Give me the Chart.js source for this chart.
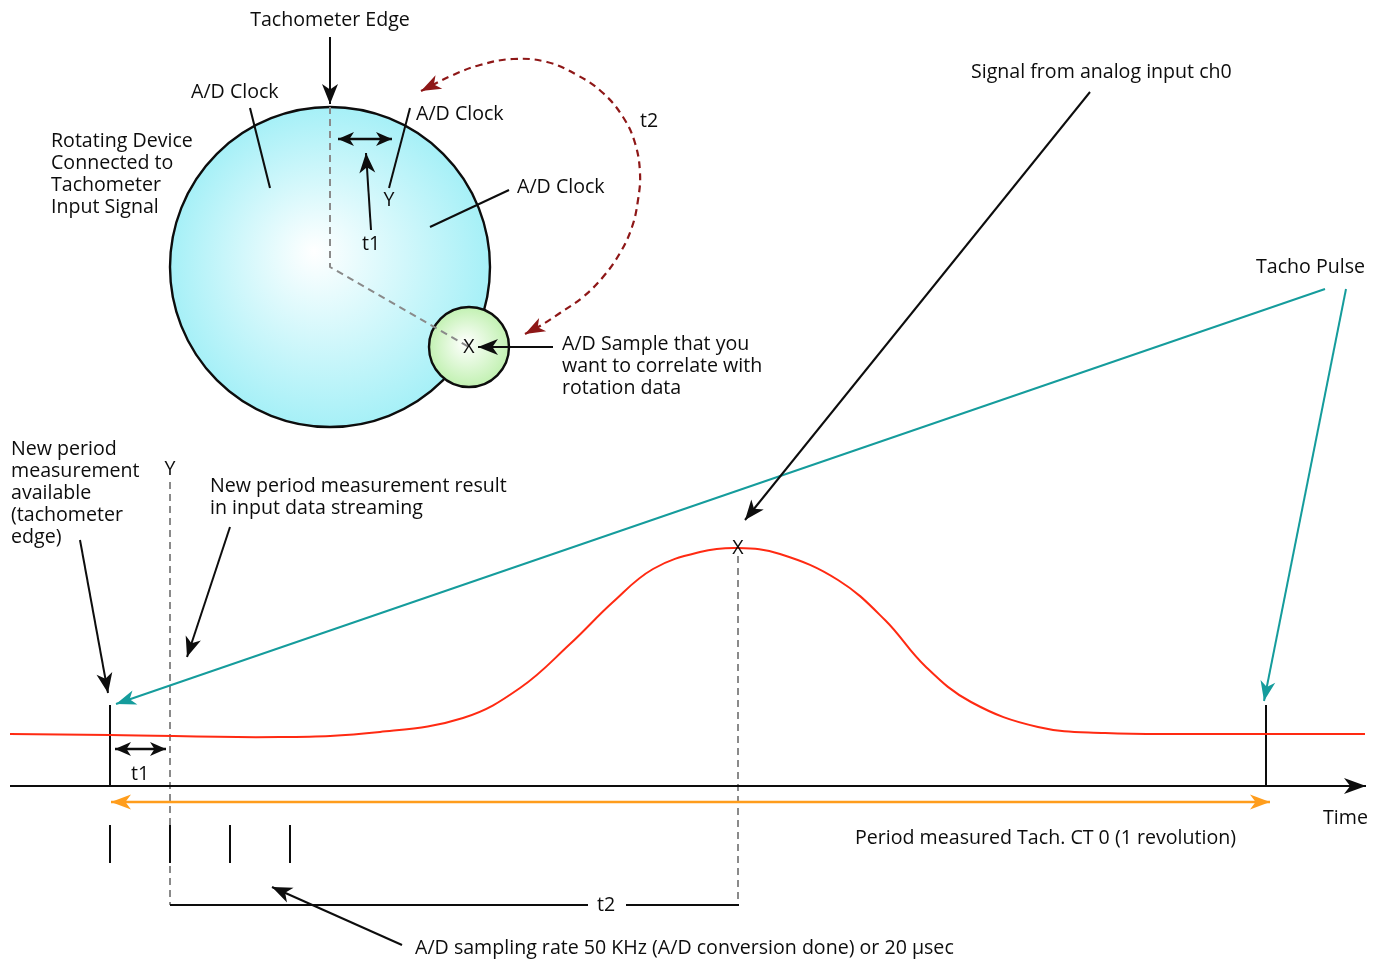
<!DOCTYPE html>
<html lang="en">
<head>
    <meta charset="UTF-8">
    <title>Tachometer / A/D correlation</title>
    <script src="https://cdn.jsdelivr.net/npm/chart.js"></script>
    <style>
        html, body { margin: 0; padding: 0; background: #fff; }
        #myapp { width: 1380px; height: 959px; }
    </style>
</head>
<body>
<div id="myapp">
    <canvas id="mychart" width="1380" height="959"></canvas>
</div>
<script>
    // diagram units: x = time / position across (0..1380), y = level, top-down (0..959)

    // red signal from analog input ch0
    const signalX = [10, 110, 280, 380, 463, 520, 570, 613, 653, 700, 738, 780, 838, 885, 925, 971, 1038, 1105, 1200, 1365];
    const signalY = [734, 735, 737, 732, 718, 688, 644, 602, 569, 552, 548, 554, 580, 620, 666, 702, 727, 733, 734, 734];

    // rotating device (big) and A/D sample (small): centre x, centre y, radius
    const discs = [[330, 267, 160], [469, 347, 40]];

    // dashed red t2 arc around the device
    const arcX = [421, 453, 480, 513, 547, 577, 603, 623, 635, 640, 638, 632, 620, 603, 583, 560, 540, 525];
    const arcY = [91, 75, 65, 59, 62, 75, 93, 117, 143, 173, 200, 227, 253, 277, 297, 313, 326, 334];

    // black pointers with an arrow head at the end
    const pointers = [
        [[330, 37], [330, 104]],
        [[371, 230], [366, 153]],
        [[553, 347], [478, 347]],
        [[1090, 92], [745, 520]],
        [[80, 540], [108, 693]],
        [[230, 527], [187, 657]],
        [[402, 945], [272, 887]]
    ];
    // double headed t1 markers
    const spans = [
        [[338, 139], [392, 139]],
        [[115, 749], [166, 749]]
    ];
    // plain leader lines for the A/D Clock labels
    const leaders = [
        [[250, 108], [270, 188]],
        [[410, 108], [389, 188]],
        [[509, 190], [430, 227]]
    ];
    // tacho pulse pointers
    const tachoPointers = [
        [[1325, 289], [116, 704]],
        [[1346, 289], [1264, 701]]
    ];
    // one revolution span
    const revolution = [[111, 802], [1270, 802]];
    // time axis
    const timeAxis = [[10, 786], [1366, 786]];
    // tacho pulses on the time axis
    const pulseX = [110, 1266];
    const pulseTop = 705;
    // A/D clock ticks
    const sampleX = [110, 170, 230, 290];
    const sampleTop = 825, sampleBottom = 863;
    // t2 bracket
    const bracket = [
        [[170, 905], [588, 905]],
        [[626, 905], [739, 905]]
    ];
    // grey dashed guide lines
    const guides = [
        [[330, 107], [330, 267], [469, 347]],
        [[170, 482], [170, 905]],
        [[738, 556], [738, 905]]
    ];

    // labels
    const labelText = [
        'Tachometer Edge', 'A/D Clock', 'A/D Clock', 'A/D Clock', 'Y', 't1', 't2', 'X',
        'Rotating Device\nConnected to\nTachometer\nInput Signal',
        'A/D Sample that you\nwant to correlate with\nrotation data',
        'Signal from analog input ch0', 'Tacho Pulse',
        'New period\nmeasurement\navailable\n(tachometer\nedge)',
        'Y', 'New period measurement result\nin input data streaming', 'X', 't1', 'Time',
        'Period measured Tach. CT 0 (1 revolution)', 't2',
        'A/D sampling rate 50 KHz (A/D conversion done) or 20 \u00b5sec'
    ];
    const labelX = [330, 191, 416, 517, 389, 371, 640, 469, 51, 562, 971, 1256, 11, 170, 210, 738, 140, 1323, 855, 606, 415];
    const labelY = [20, 92, 114, 187, 200, 244, 121, 347, 141, 344, 72, 267, 449, 469, 486, 548, 774, 818, 838, 905, 948];
    const labelAlign = ['center', 'left', 'left', 'left', 'center', 'center', 'left', 'center', 'left', 'left', 'left', 'left', 'left', 'center', 'left', 'center', 'center', 'left', 'left', 'center', 'left'];

    const BLACK = '#0d0d0d';
    const TEAL = '#159c9c';
    const ORANGE = '#ff9d1c';
    const GREY = '#8a8a8a';
    const DARKRED = '#8e1717';
    const discInner = ['#ffffff', '#ffffff'];
    const discOuter = ['#a6f0f7', '#c2f1b2'];

    function seg(pts, color, width, extra) {
        return Object.assign({
            type: 'line',
            data: pts.map(p => ({ x: p[0], y: p[1] })),
            borderColor: color,
            borderWidth: width,
            pointRadius: 0,
            fill: false,
            tension: 0,
            order: 1
        }, extra || {});
    }

    function head(ctx, tx, ty, fx, fy, L, W) {
        const ang = Math.atan2(ty - fy, tx - fx);
        ctx.save();
        ctx.translate(tx, ty);
        ctx.rotate(ang);
        ctx.beginPath();
        ctx.moveTo(0, 0);
        ctx.lineTo(-L, -W / 2);
        ctx.lineTo(-L * 0.72, 0);
        ctx.lineTo(-L, W / 2);
        ctx.closePath();
        ctx.fill();
        ctx.restore();
    }

    const diagramPlugin = {
        id: 'diagram',
        beforeDatasetsDraw(chart) {
            // discs underneath everything else
            const ctx = chart.ctx;
            const xs = chart.scales.x, ys = chart.scales.y;
            discs.forEach((d, k) => {
                const cx = xs.getPixelForValue(d[0]);
                const cy = ys.getPixelForValue(d[1]);
                const r = xs.getPixelForValue(d[0] + d[2]) - cx;
                const g = ctx.createRadialGradient(cx - r * 0.1, cy - r * 0.1, 0, cx, cy, r);
                g.addColorStop(0, discInner[k]);
                g.addColorStop(1, discOuter[k]);
                ctx.save();
                ctx.beginPath();
                ctx.arc(cx, cy, r, 0, Math.PI * 2);
                ctx.fillStyle = g;
                ctx.fill();
                ctx.lineWidth = 2.4;
                ctx.strokeStyle = BLACK;
                ctx.stroke();
                ctx.restore();
            });
        },
        afterDatasetsDraw(chart) {
            const ctx = chart.ctx;
            chart.data.datasets.forEach((ds, i) => {
                if (!ds.arrow) return;
                const pts = chart.getDatasetMeta(i).data;
                const n = pts.length;
                ctx.save();
                ctx.fillStyle = ds.borderColor;
                if (ds.arrow === 'end' || ds.arrow === 'both') {
                    head(ctx, pts[n - 1].x, pts[n - 1].y, pts[n - 2].x, pts[n - 2].y, ds.headLen, ds.headW);
                }
                if (ds.arrow === 'start' || ds.arrow === 'both') {
                    head(ctx, pts[0].x, pts[0].y, pts[1].x, pts[1].y, ds.headLen, ds.headW);
                }
                ctx.restore();
            });

            const xs = chart.scales.x, ys = chart.scales.y;
            ctx.save();
            ctx.fillStyle = BLACK;
            ctx.font = '19.6px "Open Sans", "Noto Sans", sans-serif';
            ctx.textBaseline = 'middle';
            labelText.forEach((t, k) => {
                ctx.textAlign = labelAlign[k];
                t.split('\n').forEach((line, j) => {
                    ctx.fillText(line, xs.getPixelForValue(labelX[k]), ys.getPixelForValue(labelY[k] + j * 22));
                });
            });
            ctx.restore();
        }
    };

    const datasets = [];
    datasets.push(seg(signalX.map((x, i) => [x, signalY[i]]), '#ff2a12', 2, { tension: 0.4 }));
    // guides sit under the solid marks
    guides.forEach(g => datasets.push(seg(g, GREY, 2, { borderDash: [7, 5], order: 3 })));
    datasets.push(seg(arcX.map((x, i) => [x, arcY[i]]), DARKRED, 2.2, { tension: 0.4, borderDash: [7, 5], arrow: 'both', headLen: 20, headW: 15 }));
    pointers.forEach(p => datasets.push(seg(p, BLACK, 2, { arrow: 'end', headLen: 20, headW: 16 })));
    spans.forEach(p => datasets.push(seg(p, BLACK, 2.5, { arrow: 'both', headLen: 16, headW: 14 })));
    leaders.forEach(p => datasets.push(seg(p, BLACK, 2)));
    tachoPointers.forEach(p => datasets.push(seg(p, TEAL, 2, { arrow: 'end', headLen: 20, headW: 15 })));
    datasets.push(seg(revolution, ORANGE, 2.5, { arrow: 'both', headLen: 20, headW: 15 }));
    datasets.push(seg(timeAxis, BLACK, 2, { arrow: 'end', headLen: 22, headW: 16 }));
    pulseX.forEach(x => datasets.push(seg([[x, pulseTop], [x, timeAxis[0][1]]], BLACK, 2)));
    sampleX.forEach(x => datasets.push(seg([[x, sampleTop], [x, sampleBottom]], BLACK, 2)));
    bracket.forEach(p => datasets.push(seg(p, BLACK, 2)));

    new Chart(document.getElementById('mychart').getContext('2d'), {
        type: 'scatter',
        data: { datasets: datasets },
        plugins: [diagramPlugin],
        options: {
            responsive: false,
            animation: false,
            events: [],
            layout: { padding: 0 },
            plugins: { legend: { display: false }, tooltip: { enabled: false } },
            scales: {
                x: { type: 'linear', min: 0, max: 1380, display: false },
                y: { type: 'linear', min: 0, max: 959, reverse: true, display: false }
            }
        }
    });
</script>
</body>
</html>
